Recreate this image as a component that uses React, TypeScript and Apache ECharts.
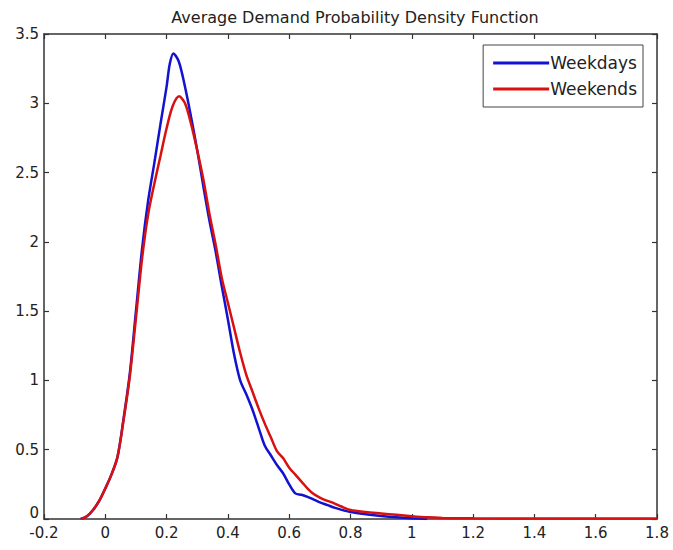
import React, { useEffect, useRef } from "react";
import * as echarts from "echarts";

// Density curves: [demand, density]
const weekdays: [number, number][] = [
  [-0.08, 0], [-0.06, 0.02], [-0.04, 0.065], [-0.02, 0.13], [0.0, 0.22],
  [0.02, 0.32], [0.04, 0.45], [0.06, 0.73], [0.08, 1.05], [0.1, 1.5],
  [0.12, 1.95], [0.14, 2.3], [0.16, 2.57], [0.18, 2.85], [0.2, 3.12],
  [0.21, 3.28], [0.222, 3.36], [0.24, 3.3], [0.26, 3.12], [0.28, 2.9],
  [0.3, 2.66], [0.32, 2.4], [0.34, 2.15], [0.36, 1.93], [0.38, 1.68],
  [0.4, 1.44], [0.42, 1.19], [0.44, 1.0], [0.46, 0.9], [0.48, 0.79],
  [0.5, 0.66], [0.52, 0.53], [0.54, 0.46], [0.56, 0.39], [0.58, 0.33],
  [0.6, 0.25], [0.62, 0.185], [0.64, 0.175], [0.66, 0.16], [0.68, 0.14],
  [0.7, 0.12], [0.725, 0.1], [0.75, 0.08], [0.8, 0.05], [0.85, 0.035],
  [0.9, 0.022], [0.95, 0.012], [1.0, 0.005], [1.05, 0.0],
];

const weekends: [number, number][] = [
  [-0.08, 0], [-0.06, 0.02], [-0.04, 0.065], [-0.02, 0.13], [0.0, 0.22],
  [0.02, 0.32], [0.04, 0.45], [0.06, 0.72], [0.08, 1.03], [0.1, 1.45],
  [0.12, 1.88], [0.14, 2.2], [0.16, 2.42], [0.18, 2.62], [0.2, 2.82],
  [0.22, 2.98], [0.241, 3.05], [0.26, 3.0], [0.28, 2.85], [0.3, 2.66],
  [0.32, 2.45], [0.34, 2.2], [0.36, 1.98], [0.38, 1.74], [0.4, 1.56],
  [0.42, 1.38], [0.44, 1.2], [0.46, 1.04], [0.48, 0.92], [0.5, 0.8],
  [0.52, 0.69], [0.54, 0.59], [0.56, 0.49], [0.58, 0.44], [0.6, 0.37],
  [0.62, 0.32], [0.64, 0.27], [0.66, 0.22], [0.68, 0.18], [0.7, 0.155],
  [0.72, 0.135], [0.745, 0.115], [0.77, 0.09], [0.8, 0.065], [0.85, 0.05],
  [0.9, 0.04], [0.95, 0.03], [1.0, 0.02], [1.05, 0.012], [1.1, 0.008],
  [1.2, 0.005], [1.4, 0.004], [1.6, 0.003], [1.8, 0.003],
];

const seriesNames = ["Weekdays", "Weekends"];
const titleText = "Average Demand Probability Density Function";

const FONT = "'DejaVu Sans', sans-serif";
const AXIS_COLOR = "#333";
const BLUE = "#1212d0";
const RED = "#d81010";

const fmt = (v: number) => String(+v.toFixed(1));

export default function App() {
  const ref = useRef<HTMLDivElement>(null);

  useEffect(() => {
    if (!ref.current) return;
    const chart = echarts.init(ref.current, undefined, { renderer: "svg" });

    const tick = { show: true, inside: true, length: 5, lineStyle: { color: AXIS_COLOR, width: 1.2 } };
    const line = { show: true, onZero: false, lineStyle: { color: AXIS_COLOR, width: 1.5 } };

    const xBase = {
      type: "value" as const,
      min: -0.2,
      max: 1.8,
      interval: 0.2,
      splitLine: { show: false },
      axisLine: line,
      axisTick: tick,
    };
    const yBase = {
      type: "value" as const,
      min: 0,
      max: 3.5,
      interval: 0.5,
      splitLine: { show: false },
      axisLine: line,
      axisTick: tick,
    };

    const labelText = { fontFamily: FONT, fontSize: 15, color: "#222" };

    chart.setOption({
      animation: false,
      backgroundColor: "#fff",
      title: {
        text: titleText,
        left: 350,
        textAlign: "center",
        top: 4,
        textStyle: { fontFamily: FONT, fontSize: 16, fontWeight: "normal", color: "#222" },
      },
      legend: {
        data: seriesNames,
        orient: "vertical",
        right: 30,
        top: 45,
        icon: "rect",
        itemWidth: 56,
        itemHeight: 3,
        itemGap: 6,
        padding: [8, 6, 8, 10],
        borderColor: "#444",
        borderWidth: 1,
        textStyle: { fontFamily: FONT, fontSize: 17, color: "#222", lineHeight: 20, padding: [0, 0, 0, -4] },
      },
      grid: { left: 44, right: 16, top: 34, bottom: 31, containLabel: false },
      xAxis: [
        {
          ...xBase,
          position: "bottom",
          axisLabel: { ...labelText, margin: 6, formatter: fmt },
        },
        { ...xBase, position: "top", axisLabel: { show: false } },
      ],
      yAxis: [
        {
          ...yBase,
          position: "left",
          axisLabel: {
            ...labelText,
            margin: 5,
            formatter: (v: number) => (v === 0 ? "{z|0}" : fmt(v)),
            rich: { z: { ...labelText, padding: [0, 0, 12, 0] } },
          },
        },
        { ...yBase, position: "right", axisLabel: { show: false } },
      ],
      series: [
        {
          name: seriesNames[0],
          type: "line",
          data: weekdays,
          showSymbol: false,
          symbol: "none",
          smooth: 0.3,
          itemStyle: { color: BLUE },
          lineStyle: { color: BLUE, width: 2.5 },
        },
        {
          name: seriesNames[1],
          type: "line",
          data: weekends,
          showSymbol: false,
          symbol: "none",
          smooth: 0.3,
          itemStyle: { color: RED },
          lineStyle: { color: RED, width: 2.5 },
        },
      ],
    });

    return () => chart.dispose();
  }, []);

  return (
    <div
      ref={ref}
      style={{ position: "fixed", left: 0, top: 0, width: 673, height: 550, background: "#fff" }}
    />
  );
}
